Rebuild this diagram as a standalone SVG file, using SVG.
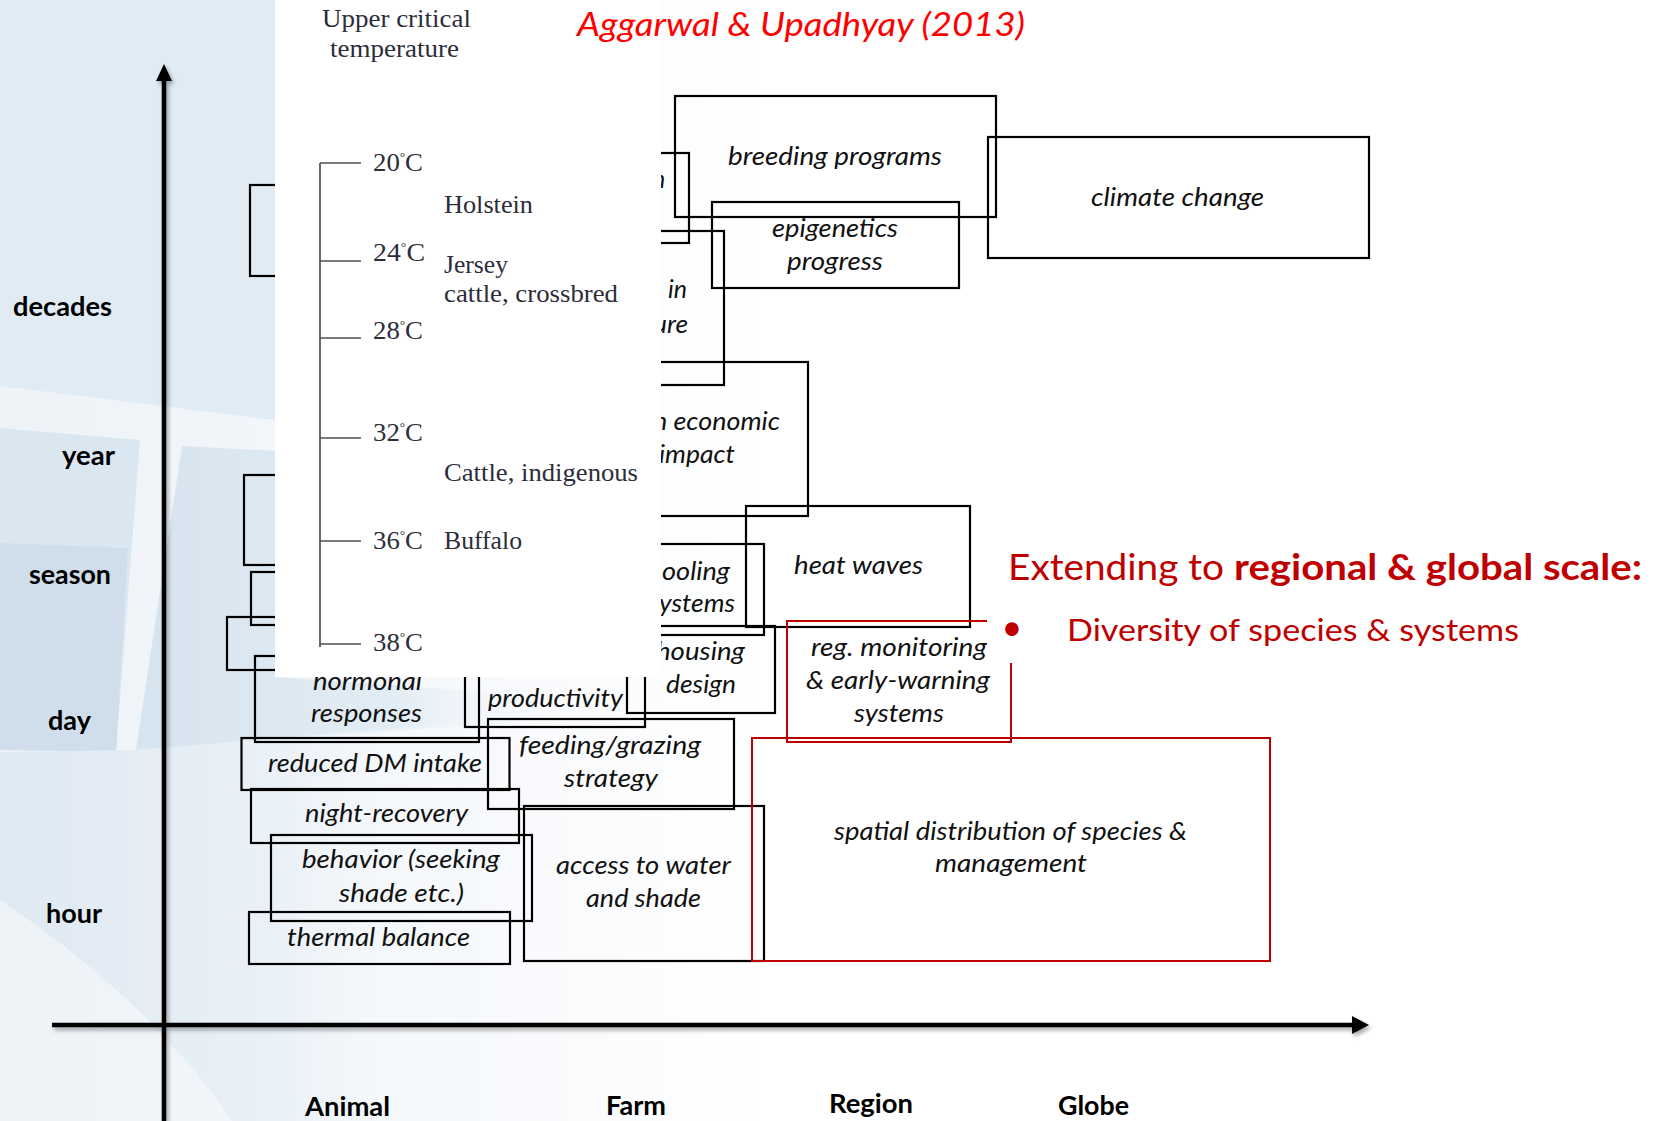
<svg xmlns="http://www.w3.org/2000/svg" width="1661" height="1121" viewBox="0 0 1661 1121">
  <defs>
    <linearGradient id="baseFade" x1="0" y1="0" x2="1" y2="0">
      <stop offset="0" stop-color="#eef3f8"/>
      <stop offset="0.5" stop-color="#f4f7fb"/>
      <stop offset="1" stop-color="#ffffff"/>
    </linearGradient>
    <linearGradient id="bandFade" x1="0" y1="0" x2="1" y2="0">
      <stop offset="0" stop-color="#d6e4ef"/>
      <stop offset="0.55" stop-color="#e2ecf4"/>
      <stop offset="1" stop-color="#ffffff" stop-opacity="0"/>
    </linearGradient>
    <linearGradient id="lowFade" x1="0" y1="0" x2="1" y2="0">
      <stop offset="0" stop-color="#dfe9f2"/>
      <stop offset="0.6" stop-color="#eaf1f7"/>
      <stop offset="1" stop-color="#ffffff" stop-opacity="0"/>
    </linearGradient>
    <filter id="axShadow" x="-5%" y="-5%" width="110%" height="110%">
      <feDropShadow dx="2" dy="3" stdDeviation="2" flood-color="#000" flood-opacity="0.35"/>
    </filter>
    <style>
      .box { fill: none; stroke: #000; stroke-width: 2.2; }
      .rbox { fill: none; stroke: #c00000; stroke-width: 2; }
      .lbl { font-family: Lato, "Open Sans", sans-serif; font-style: italic; font-size: 25px; fill: #111; }
      .ax { font-family: Lato, "Open Sans", sans-serif; font-weight: bold; font-size: 26px; fill: #000; }
      .ser { font-family: "Liberation Serif", "Times New Roman", serif; font-size: 26px; fill: #2d2d3a; }
      .deg { font-size: 13px; }
      .tick { stroke: #505050; stroke-width: 1.7; fill: none; }
      .axis { stroke: #000; stroke-width: 4.5; fill: none; }
    </style>
  </defs>

  <!-- slide background -->
  <rect width="1661" height="1121" fill="#ffffff"/>
  <rect x="0" y="0" width="760" height="1121" fill="url(#baseFade)"/>
  <path d="M0,0 H275 V420 L0,386 Z" fill="#e1ebf4"/>
  <path d="M0,428 L140,440 L116,752 L0,750 Z" fill="#dbe7f0"/>
  <path d="M0,543 L128,548 L116,752 L0,750 Z" fill="#cfdeea"/>
  <path d="M182,446 L275,451 L275,677 L600,700 L600,716 L136,750 Z" fill="url(#bandFade)"/>
  <path d="M0,752 L136,750 L470,722 L470,1121 L232,1121 Q150,1000 0,900 Z" fill="url(#lowFade)"/>

  <!-- axes -->
  <g id="axes" filter="url(#axShadow)">
    <line class="axis" x1="164" y1="78" x2="164" y2="1121"/>
    <polygon points="164,64 156,81 172,81" fill="#000"/>
    <line class="axis" x1="52" y1="1025" x2="1354" y2="1025"/>
    <polygon points="1369,1025 1352,1016 1352,1034" fill="#000"/>
  </g>

  <!-- axis labels -->
  <g id="time-labels">
    <text class="ax" x="13" y="316" textLength="99" lengthAdjust="spacingAndGlyphs">decades</text>
    <text class="ax" x="62" y="465" textLength="53" lengthAdjust="spacingAndGlyphs">year</text>
    <text class="ax" x="29" y="584" textLength="82" lengthAdjust="spacingAndGlyphs">season</text>
    <text class="ax" x="48" y="730" textLength="43" lengthAdjust="spacingAndGlyphs">day</text>
    <text class="ax" x="46" y="923" textLength="56" lengthAdjust="spacingAndGlyphs">hour</text>
  </g>
  <g id="scale-labels">
    <text class="ax" x="305" y="1116" textLength="85" lengthAdjust="spacingAndGlyphs">Animal</text>
    <text class="ax" x="606" y="1115" textLength="60" lengthAdjust="spacingAndGlyphs">Farm</text>
    <text class="ax" x="829" y="1113" textLength="84" lengthAdjust="spacingAndGlyphs">Region</text>
    <text class="ax" x="1058" y="1115" textLength="71" lengthAdjust="spacingAndGlyphs">Globe</text>
  </g>

  <!-- boxes partly covered by the temperature inset -->
  <g id="box-a"><rect class="box" x="250" y="185" width="200" height="91"/></g>
  <g id="box-b"><rect class="box" x="244" y="475" width="220" height="90"/></g>
  <g id="box-c"><rect class="box" x="251" y="572" width="200" height="53"/></g>
  <g id="box-d"><rect class="box" x="227" y="617" width="230" height="53"/></g>
  <g id="box-e">
    <rect class="box" x="520" y="153" width="169" height="90"/>
    <text class="lbl" x="652" y="188">n</text>
  </g>
  <g id="box-f">
    <rect class="box" x="480" y="231" width="244" height="154"/>
    <text class="lbl" x="668" y="298" textLength="19" lengthAdjust="spacingAndGlyphs">in</text>
    <text class="lbl" x="653" y="333" textLength="35" lengthAdjust="spacingAndGlyphs">ure</text>
  </g>
  <g id="box-economic">
    <rect class="box" x="500" y="362" width="308" height="154"/>
    <text class="lbl" x="653" y="430" textLength="127" lengthAdjust="spacingAndGlyphs">n economic</text>
    <text class="lbl" x="659" y="463" textLength="76" lengthAdjust="spacingAndGlyphs">impact</text>
  </g>
  <g id="box-cooling">
    <rect class="box" x="560" y="544" width="204" height="91"/>
    <text class="lbl" x="662" y="580" textLength="68" lengthAdjust="spacingAndGlyphs">ooling</text>
    <text class="lbl" x="659" y="612" textLength="76" lengthAdjust="spacingAndGlyphs">ystems</text>
  </g>

  <!-- farm and animal scale boxes -->
  <g id="box-housing">
    <rect class="box" x="627" y="626" width="148" height="87"/>
    <text class="lbl" x="656" y="660" textLength="89" lengthAdjust="spacingAndGlyphs">housing</text>
    <text class="lbl" x="666" y="693" textLength="70" lengthAdjust="spacingAndGlyphs">design</text>
  </g>
  <g id="box-productivity">
    <rect class="box" x="465" y="600" width="180" height="127"/>
    <text class="lbl" x="488" y="707" textLength="135" lengthAdjust="spacingAndGlyphs">productivity</text>
  </g>
  <g id="box-hormonal">
    <rect class="box" x="255" y="656" width="224" height="86"/>
    <text class="lbl" x="313" y="690" textLength="109" lengthAdjust="spacingAndGlyphs">hormonal</text>
    <text class="lbl" x="311" y="722" textLength="111" lengthAdjust="spacingAndGlyphs">responses</text>
  </g>
  <g id="box-reduced-dm">
    <rect class="box" x="241.5" y="738" width="268" height="52"/>
    <text class="lbl" x="268" y="772" textLength="214" lengthAdjust="spacingAndGlyphs">reduced DM intake</text>
  </g>
  <g id="box-night">
    <rect class="box" x="251" y="789" width="268" height="54"/>
    <text class="lbl" x="305" y="822" textLength="163" lengthAdjust="spacingAndGlyphs">night-recovery</text>
  </g>
  <g id="box-behavior">
    <rect class="box" x="271" y="835" width="261" height="86"/>
    <text class="lbl" x="302" y="868" textLength="198" lengthAdjust="spacingAndGlyphs">behavior (seeking</text>
    <text class="lbl" x="339" y="902" textLength="125" lengthAdjust="spacingAndGlyphs">shade etc.)</text>
  </g>
  <g id="box-thermal">
    <rect class="box" x="249" y="912" width="261" height="52"/>
    <text class="lbl" x="287" y="946" textLength="183" lengthAdjust="spacingAndGlyphs">thermal balance</text>
  </g>
  <g id="box-feeding">
    <rect class="box" x="488" y="719" width="246" height="90"/>
    <text class="lbl" x="519" y="754" textLength="182" lengthAdjust="spacingAndGlyphs">feeding/grazing</text>
    <text class="lbl" x="564" y="787" textLength="94" lengthAdjust="spacingAndGlyphs">strategy</text>
  </g>
  <g id="box-access">
    <rect class="box" x="524" y="806" width="240" height="155"/>
    <text class="lbl" x="556" y="874" textLength="175" lengthAdjust="spacingAndGlyphs">access to water</text>
    <text class="lbl" x="586" y="907" textLength="115" lengthAdjust="spacingAndGlyphs">and shade</text>
  </g>

  <!-- region and globe scale boxes -->
  <g id="box-heat">
    <rect class="box" x="746" y="506" width="224" height="121"/>
    <text class="lbl" x="794" y="574" textLength="129" lengthAdjust="spacingAndGlyphs">heat waves</text>
  </g>
  <g id="box-breeding">
    <rect class="box" x="675" y="96" width="321" height="121"/>
    <text class="lbl" x="728" y="165" textLength="214" lengthAdjust="spacingAndGlyphs">breeding programs</text>
  </g>
  <g id="box-epigenetics">
    <rect class="box" x="712" y="202" width="247" height="86"/>
    <text class="lbl" x="772" y="237" textLength="126" lengthAdjust="spacingAndGlyphs">epigenetics</text>
    <text class="lbl" x="787" y="270" textLength="96" lengthAdjust="spacingAndGlyphs">progress</text>
  </g>
  <g id="box-climate">
    <rect class="box" x="988" y="137" width="381" height="121"/>
    <text class="lbl" x="1091" y="206" textLength="173" lengthAdjust="spacingAndGlyphs">climate change</text>
  </g>
  <g id="box-monitoring">
    <rect class="rbox" x="787" y="621" width="224" height="121"/>
    <text class="lbl" x="811" y="656" textLength="176" lengthAdjust="spacingAndGlyphs">reg. monitoring</text>
    <text class="lbl" x="806" y="689" textLength="184" lengthAdjust="spacingAndGlyphs">&amp; early-warning</text>
    <text class="lbl" x="854" y="722" textLength="90" lengthAdjust="spacingAndGlyphs">systems</text>
  </g>
  <g id="box-spatial">
    <rect class="rbox" x="752" y="738" width="518" height="223"/>
    <text class="lbl" x="834" y="840" textLength="353" lengthAdjust="spacingAndGlyphs">spatial distribution of species &amp;</text>
    <text class="lbl" x="935" y="872" textLength="152" lengthAdjust="spacingAndGlyphs">management</text>
  </g>

  <!-- upper critical temperature inset -->
  <g id="temperature-inset">
    <rect x="275" y="0" width="386" height="677" fill="#ffffff"/>
    <text class="ser" x="322" y="27" textLength="149" lengthAdjust="spacingAndGlyphs">Upper critical</text>
    <text class="ser" x="330" y="57" textLength="129" lengthAdjust="spacingAndGlyphs">temperature</text>
    <path class="tick" d="M320,163 V647 M320,163 H361 M320,261 H361 M320,338 H361 M320,438 H361 M320,541 H361 M320,644 H361"/>
    <text class="ser" x="373" y="171" textLength="50" lengthAdjust="spacingAndGlyphs">20<tspan class="deg" dy="-10">°</tspan><tspan dy="10">C</tspan></text>
    <text class="ser" x="373" y="261" textLength="52" lengthAdjust="spacingAndGlyphs">24<tspan class="deg" dy="-10">°</tspan><tspan dy="10">C</tspan></text>
    <text class="ser" x="373" y="339" textLength="50" lengthAdjust="spacingAndGlyphs">28<tspan class="deg" dy="-10">°</tspan><tspan dy="10">C</tspan></text>
    <text class="ser" x="373" y="441" textLength="50" lengthAdjust="spacingAndGlyphs">32<tspan class="deg" dy="-10">°</tspan><tspan dy="10">C</tspan></text>
    <text class="ser" x="373" y="549" textLength="50" lengthAdjust="spacingAndGlyphs">36<tspan class="deg" dy="-10">°</tspan><tspan dy="10">C</tspan></text>
    <text class="ser" x="373" y="651" textLength="50" lengthAdjust="spacingAndGlyphs">38<tspan class="deg" dy="-10">°</tspan><tspan dy="10">C</tspan></text>
    <text class="ser" x="444" y="213" textLength="89" lengthAdjust="spacingAndGlyphs">Holstein</text>
    <text class="ser" x="444" y="273" textLength="64" lengthAdjust="spacingAndGlyphs">Jersey</text>
    <text class="ser" x="444" y="302" textLength="174" lengthAdjust="spacingAndGlyphs">cattle, crossbred</text>
    <text class="ser" x="444" y="481" textLength="194" lengthAdjust="spacingAndGlyphs">Cattle, indigenous</text>
    <text class="ser" x="444" y="549" textLength="78" lengthAdjust="spacingAndGlyphs">Buffalo</text>
  </g>

  <!-- source reference -->
  <g id="source">
    <text x="577" y="36" font-family="Lato, 'Open Sans', sans-serif" font-style="italic" font-size="33" fill="#ff0000" textLength="448" lengthAdjust="spacingAndGlyphs">Aggarwal &amp; Upadhyay (2013)</text>
  </g>

  <!-- scale-up note -->
  <g id="note">
    <rect x="987" y="545" width="674" height="118" fill="#ffffff"/>
    <text y="580" font-family="Lato, 'Open Sans', sans-serif" font-size="36" fill="#c00000"><tspan x="1008" textLength="226" lengthAdjust="spacingAndGlyphs">Extending to </tspan><tspan x="1234" font-weight="bold" textLength="408" lengthAdjust="spacingAndGlyphs">regional &amp; global scale:</tspan></text>
    <text x="1012" y="640" text-anchor="middle" font-family="Lato, 'Open Sans', sans-serif" font-size="36" fill="#c00000">•</text>
    <text x="1067" y="641" font-family="Lato, 'Open Sans', sans-serif" font-size="31" fill="#c00000" textLength="452" lengthAdjust="spacingAndGlyphs">Diversity of species &amp; systems</text>
  </g>
</svg>
